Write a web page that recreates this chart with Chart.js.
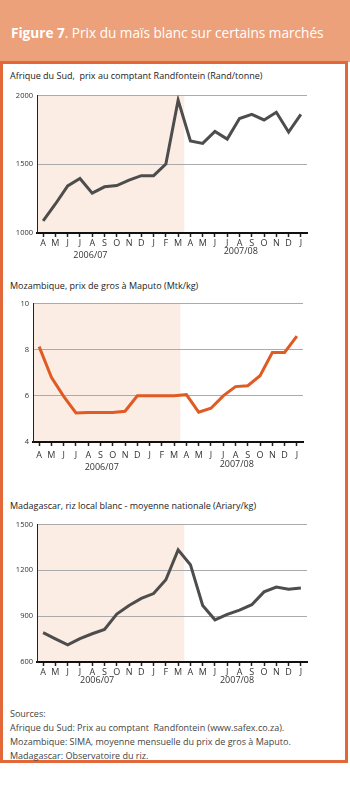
<!DOCTYPE html>
<html><head><meta charset="utf-8">
<script src="https://cdn.jsdelivr.net/npm/chart.js@4"></script>
<style>
body{margin:0;width:350px;height:790px;background:#fff;position:relative;font-family:"Open Sans",sans-serif;overflow:hidden}
#hdr{position:absolute;left:0;top:0;width:350px;height:62px;background:#EDA17B}
#hdr div{position:absolute;left:11px;top:24px;color:#fff;font-size:13.6px;white-space:nowrap;line-height:18px}
#box{position:absolute;left:0;top:61px;width:348px;height:702px;box-sizing:border-box;border:3px solid #E2683A}
.t{position:absolute;left:10px;font-size:9px;color:#222;white-space:nowrap;line-height:12px}
.src{position:absolute;left:10px;top:707px;font-size:9px;color:#444;line-height:13.9px;white-space:nowrap}
canvas{position:absolute;left:0}
</style></head>
<body>
<div id="hdr"><div><b>Figure 7</b>. Prix du maïs blanc sur certains marchés</div></div>
<div id="box"></div>
<div class="t" style="top:70px">Afrique du Sud,&nbsp; prix au comptant Randfontein (Rand/tonne)</div>
<div class="t" style="top:280px">Mozambique, prix de gros à Maputo (Mtk/kg)</div>
<div class="t" style="top:500px">Madagascar, riz local blanc - moyenne nationale (Ariary/kg)</div>
<canvas id="c1" width="315" height="178" style="top:87px"></canvas>
<canvas id="c2" width="311" height="179" style="top:295px"></canvas>
<canvas id="c3" width="315" height="178" style="top:516px"></canvas>
<div class="src">Sources:<br>Afrique du Sud: Prix au comptant&nbsp; Randfontein (www.safex.co.za).<br>Mozambique: SIMA, moyenne mensuelle du prix de gros à Maputo.<br>Madagascar: Observatoire du riz.</div>
<script>
const months = ['A','M','J','J','A','S','O','N','D','J','F','M','A','M','J','J','A','S','O','N','D','J'];
const seasons = ['2006/07','2007/08'];
const shadedMonthCount = 12;
const southAfricaRand = [1089,1211,1343,1396,1290,1336,1345,1384,1417,1417,1501,1966,1669,1652,1739,1683,1832,1863,1822,1878,1734,1863];
const mozambiqueMtk = [8.13,6.80,5.98,5.26,5.28,5.28,5.28,5.33,6.0,6.0,6.0,6.0,6.05,5.29,5.46,6.0,6.4,6.44,6.87,7.88,7.88,8.59];
const madagascarAriary = [792,751,712,753,785,813,914,970,1016,1048,1138,1334,1237,970,876,912,940,975,1059,1091,1076,1084];
const ticksSA = [1000,1500,2000];
const ticksMZ = [4,6,8,10];
const ticksMG = [600,900,1200,1500];

const FONT = '"Open Sans", sans-serif';

const decoPlugin = {
  id: 'deco',
  beforeDraw(chart, args, opts) {
    const {ctx, chartArea: a, scales: {x}} = chart;
    ctx.save();
    ctx.fillStyle = '#FBEDE3';
    const xe = x.getPixelForValue(shadedMonthCount - 0.5);
    ctx.fillRect(a.left, a.top, xe - a.left, a.bottom - a.top);
    ctx.restore();
  },
  afterDraw(chart, args, opts) {
    const {ctx, chartArea: a, scales: {x}} = chart;
    ctx.save();
    ctx.fillStyle = '#333';
    ctx.font = '9px ' + FONT;
    ctx.textAlign = 'center';
    ctx.textBaseline = 'middle';
    seasons.forEach((s, i) => {
      ctx.fillText(s, x.getPixelForValue(opts.pos[i]), a.bottom + opts.dy[i]);
    });
    ctx.restore();
  }
};

function makeChart(id, values, color, yTicks, cfg) {
  const lo = yTicks[0], hi = yTicks[yTicks.length - 1];
  return new Chart(document.getElementById(id), {
    type: 'line',
    data: { labels: months, datasets: [{ data: values, borderColor: color, borderWidth: 3, pointRadius: 0, tension: 0, fill: false }] },
    plugins: [decoPlugin],
    options: {
      responsive: false, animation: false,
      layout: { padding: { top: 7, right: cfg.right, left: 0, bottom: 0 } },
      plugins: { legend: { display: false }, tooltip: { enabled: false }, deco: { pos: cfg.pos, dy: cfg.dy } },
      scales: {
        x: {
          type: 'category', offset: true,
          grid: { offset: false, drawOnChartArea: false, drawTicks: true, tickLength: 4, tickColor: '#222', tickWidth: 1.5 },
          border: { color: '#111', width: 2 },
          ticks: { autoSkip: false, maxRotation: 0, padding: cfg.tp, color: '#333', font: { family: FONT, size: 9 } },
          afterFit(s) { s.height = 32; }
        },
        y: {
          min: lo, max: hi,
          afterBuildTicks(s) { s.ticks = yTicks.map(v => ({ value: v })); },
          grid: { drawTicks: false, color: c => (c.tick && c.tick.value === lo) ? 'rgba(0,0,0,0)' : '#ababab', lineWidth: 1 },
          border: { color: '#222', width: 1 },
          ticks: { padding: 4, color: '#333', font: { family: FONT, size: 7.5 }, callback: v => String(v) },
          afterFit(s) { s.width = cfg.left; }
        }
      }
    }
  });
}

makeChart('c1', southAfricaRand, '#4D4D4D', ticksSA, { left: 37, right: 8, tp: 1, pos: [3.85, 16.1], dy: [22, 18.5] });
makeChart('c2', mozambiqueMtk, '#E05A24', ticksMZ, { left: 33, right: 8, tp: 4, pos: [5.1, 16.1], dy: [25, 22.5] });
makeChart('c3', madagascarAriary, '#4D4D4D', ticksMG, { left: 37, right: 8, tp: 1, pos: [4.4, 15.8], dy: [18, 18] });
</script>
</body></html>
